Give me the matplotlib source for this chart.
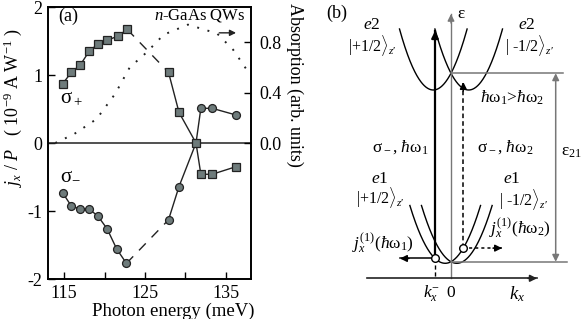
import numpy as np
import matplotlib
matplotlib.use('Agg')
import matplotlib.pyplot as plt

plt.rcParams['font.family'] = ['Liberation Serif', 'DejaVu Serif']
plt.rcParams['mathtext.fontset'] = 'custom'
plt.rcParams['mathtext.rm'] = 'Liberation Serif'
plt.rcParams['mathtext.it'] = 'Liberation Serif:italic'
plt.rcParams['mathtext.bf'] = 'Liberation Serif:bold'
plt.rcParams['axes.unicode_minus'] = False

# ---- panel (a) data ----
# sigma+ (squares), photocurrent j_x/P in 1e-9 A/W
sp_energy = [114.8, 115.9, 117.0, 118.1, 119.2, 120.3, 121.6, 122.8,
             127.9, 129.2, 131.3, 131.9, 133.3, 136.2]
sp_current = [0.87, 1.04, 1.15, 1.35, 1.46, 1.51, 1.57, 1.67,
              1.04, 0.45, 0.0, -0.46, -0.46, -0.35]
# sigma- (circles)
sm_energy = [114.8, 115.9, 117.0, 118.1, 119.2, 120.3, 121.5, 122.7,
             127.9, 129.2, 131.3, 131.9, 133.3, 136.3]
sm_current = [-0.73, -0.93, -0.97, -0.97, -1.08, -1.26, -1.56, -1.77,
              -1.13, -0.64, 0.0, 0.51, 0.51, 0.41]
gap = 7  # dashed link between index gap and gap+1

# absorption (dotted, right axis)
abs_energy = [113.9, 116.2, 119.0, 121.3, 123.1, 125.2, 127.3, 130.3,
              133.9, 135.9, 137.8]
abs_value = [0.0, 0.07, 0.19, 0.39, 0.60, 0.72, 0.86, 0.94,
             0.87, 0.74, 0.56]

# ---- panel (b) schematic parameters (drawing units = pixels) ----
k0 = 451.0            # position of k = 0
k_axis_y = 278.3
e1_shift, e1_min, e1_curv, e1_top = 5.8, 263.3, 0.0463, 205.5
e2_shift, e2_min, e2_curv, e2_top = 17.7, 90.0, 0.0534, 29.0
k_left = 435.0        # k_x^- transition (hw1)
k_right = 463.3       # hw2 transition

fill = '#6e7b7b'
gray = '#777777'

fig = plt.figure(figsize=(5.83, 3.19), dpi=100)

# ================= panel (a) =================
ax = fig.add_axes([48 / 583, 1 - 279 / 319, 203 / 583, 272 / 319])
ax.set_xlim(113.0, 138.1)
ax.set_ylim(-2, 2)

for xs, ys, mk, z in [(sp_energy, sp_current, 's', 4), (sm_energy, sm_current, 'o', 3)]:
    ax.plot(xs[:gap + 1], ys[:gap + 1], color='#222222', lw=1.0, zorder=z)
    ax.plot(xs[gap:gap + 2], ys[gap:gap + 2], color='#222222', lw=1.0,
            ls=(0, (7, 6)), zorder=z)
    ax.plot(xs[gap + 1:], ys[gap + 1:], color='#222222', lw=1.0, zorder=z)
    ax.plot(xs, ys, ls='none', marker=mk, ms=5.2 if mk == 's' else 5.7,
            mfc=fill, mec='#222222', mew=0.9, zorder=z + 2)

ax.axhline(0, color='#222222', lw=1.1, zorder=2)

ax.set_xticks([115, 120, 125, 130, 135])
ax.set_xticklabels(['115', '', '125', '', '135'])
ax.set_yticks([-2, -1, 0, 1, 2])
ax.tick_params(direction='in', labelsize=13, length=5, width=1.0, pad=4)
for s in ax.spines.values():
    s.set_linewidth(1.2)

ax2 = ax.twinx()
ax2.set_ylim(-1.08, 1.08)
ax2.plot(abs_energy, abs_value, color='#222222', lw=1.4, ls=(0, (1, 4.5)))
ax2.set_yticks([0.0, 0.4, 0.8])
ax2.set_yticklabels(['0.0', '0.4', '0.8'])
ax2.tick_params(direction='in', labelsize=13, length=5, width=1.0, pad=6)
for s in ax2.spines.values():
    s.set_linewidth(1.2)

ax.text(0.05, 0.967, '(a)', transform=ax.transAxes, fontsize=13,
        ha='left', va='center')
ax.text(0.975, 0.967, r'$n$-GaAs QWs', transform=ax.transAxes, fontsize=12,
        ha='right', va='center')
ax.annotate('', xy=(0.94, 0.905), xytext=(0.83, 0.905), xycoords='axes fraction',
            arrowprops=dict(arrowstyle='-|>', color='#222222', lw=1.0,
                            mutation_scale=9))
ax.text(114.5, 0.66, r'σ$_+$', fontsize=15, ha='left', va='center')
ax.text(114.5, -0.47, 'σ$_{-}$', fontsize=15, ha='left', va='center')

fig.text(13 / 583, 1 - 108 / 319,
         r'$j_x$ / $P$   ( 10$^{-9}$ A W$^{-1}$ )',
         rotation=90, ha='center', va='center', fontsize=13)
fig.text(295 / 583, 1 - 85 / 319, 'Absorption (arb. units)',
         rotation=270, ha='center', va='center', fontsize=13)
fig.text(173 / 583, 1 - 311 / 319, 'Photon energy (meV)',
         ha='center', va='center', fontsize=13.5)

# ================= panel (b) =================
axb = fig.add_axes([0.5, 0.0, 0.5, 1.0])
axb.set_xlim(291.5, 583)
axb.set_ylim(319, 0)
axb.axis('off')


def parabola(center, ymin, curv, ytop):
    half = np.sqrt((ymin - ytop) / curv)
    k = np.linspace(center - half, center + half, 200)
    return k, ymin - curv * (k - center) ** 2


def e_at(k, center, ymin, curv):
    return ymin - curv * (k - center) ** 2


def arrow(ax_, x0, y0, x1, y1, color='k', lw=1.0, ls='-', head=10):
    ax_.plot([x0, x1], [y0, y1], color=color, lw=lw, ls=ls)
    dx, dy = x1 - x0, y1 - y0
    n = np.hypot(dx, dy)
    ax_.annotate('', xy=(x1, y1), xytext=(x1 - dx / n * 9, y1 - dy / n * 9),
                 arrowprops=dict(arrowstyle='-|>', color=color, lw=lw,
                                 mutation_scale=head, shrinkA=0, shrinkB=0))


for sgn in (-1, 1):
    k, e = parabola(k0 + sgn * e1_shift, e1_min, e1_curv, e1_top)
    axb.plot(k, e, color='k', lw=1.0)
    k, e = parabola(k0 + sgn * e2_shift, e2_min, e2_curv, e2_top)
    axb.plot(k, e, color='k', lw=1.0)

# axes of the schematic
arrow(axb, k0, k_axis_y, k0, 14, color=gray, lw=1.0)
arrow(axb, 367, k_axis_y, 537, k_axis_y, color='#222222', lw=1.2)

# energy level markers
e2_cross = e_at(k0, k0 - e2_shift, e2_min, e2_curv)
e1_cross = e_at(k0, k0 - e1_shift, e1_min, e1_curv)
axb.plot([k0, 563], [e2_cross, e2_cross], color=gray, lw=1.1)
axb.plot([k0, 567], [e1_cross, e1_cross], color=gray, lw=1.1)
axb.annotate('', xy=(555.7, e2_cross), xytext=(555.7, e1_cross),
             arrowprops=dict(arrowstyle='<|-|>', color=gray, lw=1.1,
                             mutation_scale=10, shrinkA=0, shrinkB=0))

# transitions
yl = e_at(k_left, k0 - e1_shift, e1_min, e1_curv)
yr = e_at(k_right, k0 - e1_shift, e1_min, e1_curv)
arrow(axb, k_left, yl, k_left, 31, lw=1.6)
arrow(axb, k_right, yr, k_right, 82, lw=1.1, ls=(0, (3, 2)))
axb.plot([k_left, k_left], [yl, k_axis_y], color='k', lw=1.0, ls=(0, (3, 2)))
arrow(axb, k_left, yl, 400, yl, lw=1.1)
arrow(axb, k_right, yr, 502, yr, lw=1.1, ls=(0, (2, 2)))
axb.plot([k_left, k_right], [yl, yr], ls='none', marker='o', ms=5.5,
         mfc='white', mec='k', mew=1.0, zorder=5)

fs = 12.5
kfs = 11.5
axb.text(336.7, 13, '(b)', fontsize=13, ha='center', va='center')
axb.text(457, 14, 'ε', fontsize=fs, ha='left', va='center')
axb.text(372, 25, r'$e$2', fontsize=fs, ha='center', va='center')
axb.text(372, 46, r'$|$+1/2$\rangle_{z\prime}$', fontsize=kfs, ha='center', va='center')
axb.text(527, 25, r'$e$2', fontsize=fs, ha='center', va='center')
axb.text(529, 46, r'$|$ -1/2$\rangle_{z\prime}$', fontsize=kfs, ha='center', va='center')
axb.text(512, 98, r'$\hbar$ω$_1$>$\hbar$ω$_2$', fontsize=fs, ha='center', va='center')
axb.text(400, 147, r'σ$_-$, $\hbar$ω$_1$', fontsize=fs, ha='center', va='center')
axb.text(505, 147, r'σ$_-$, $\hbar$ω$_2$', fontsize=fs, ha='center', va='center')
axb.text(571, 152, r'ε$_{21}$', fontsize=fs, ha='center', va='center')
axb.text(380, 179, r'$e$1', fontsize=fs, ha='center', va='center')
axb.text(380, 198, r'$|$+1/2$\rangle_{z\prime}$', fontsize=kfs, ha='center', va='center')
axb.text(512, 179, r'$e$1', fontsize=fs, ha='center', va='center')
axb.text(523, 199, r'$|$ -1/2$\rangle_{z\prime}$', fontsize=kfs, ha='center', va='center')
axb.text(383, 243, r'$j_x^{(1)}$($\hbar$ω$_1$)', fontsize=fs, ha='center', va='center')
axb.text(520, 228, r'$j_x^{(1)}$($\hbar$ω$_2$)', fontsize=fs, ha='center', va='center')
axb.text(432, 293, r'$k_x^{-}$', fontsize=fs, ha='center', va='center')
axb.text(451, 293, '0', fontsize=fs, ha='center', va='center')
axb.text(517, 294, r'$k_x$', fontsize=fs + 1, ha='center', va='center')

fig.savefig('out.png', dpi=100)
